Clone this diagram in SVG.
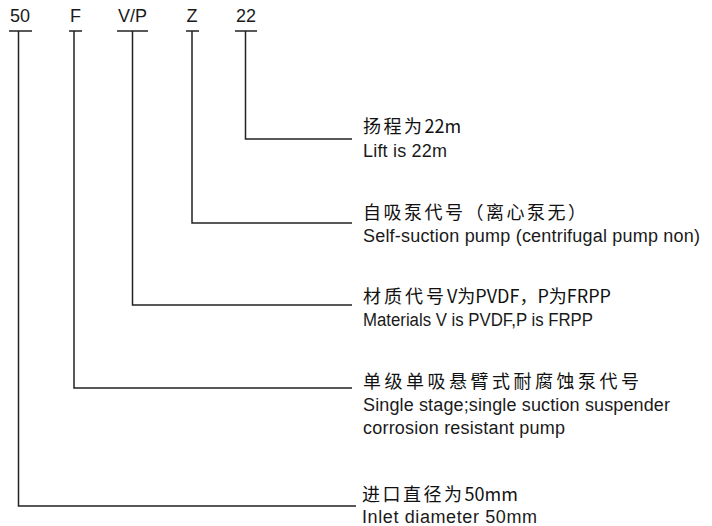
<svg xmlns="http://www.w3.org/2000/svg" width="712" height="526" viewBox="0 0 712 526">
<style>
.code{font-family:"Liberation Sans","Noto Sans",sans-serif;font-size:18px;fill:#1a1a1a;text-anchor:middle}
.cn{font-family:"Noto Sans CJK SC","Liberation Sans",sans-serif;font-size:18px;fill:#111}
.en{font-family:"Liberation Sans","Noto Sans",sans-serif;font-size:18px;fill:#1a1a1a}
.ln{stroke:#222;stroke-width:1.5;fill:none}
</style>
<rect width="712" height="526" fill="#fff"/>
<g id="codes">
  <g id="code-50"><text class="code" x="20" y="22">50</text><line class="ln" x1="9" y1="31" x2="32" y2="31"/></g>
  <g id="code-F"><text class="code" x="75.5" y="22">F</text><line class="ln" x1="69" y1="31" x2="82" y2="31"/></g>
  <g id="code-VP"><text class="code" x="132.5" y="22">V/P</text><line class="ln" x1="117" y1="31" x2="148" y2="31"/></g>
  <g id="code-Z"><text class="code" x="192" y="22">Z</text><line class="ln" x1="186" y1="31" x2="199" y2="31"/></g>
  <g id="code-22"><text class="code" x="246" y="22">22</text><line class="ln" x1="235" y1="31" x2="257" y2="31"/></g>
</g>
<g id="connectors">
  <polyline class="ln" points="245.5,31 245.5,139 352,139"/>
  <polyline class="ln" points="192,31 192,223 352,223"/>
  <polyline class="ln" points="132.5,31 132.5,305 352,305"/>
  <polyline class="ln" points="74,31 74,388 352,388"/>
  <polyline class="ln" points="18.5,31 18.5,506 356,506"/>
</g>
<g id="desc-22">
  <text class="cn" x="363" y="133"><tspan style="letter-spacing:2.5px">扬程为</tspan>22m</text>
  <text class="en" x="363" y="157" textLength="84" lengthAdjust="spacing">Lift is 22m</text>
</g>
<g id="desc-Z">
  <text class="cn" x="363" y="219" style="letter-spacing:2.5px">自吸泵代号（离心泵无）</text>
  <text class="en" x="363" y="242" textLength="337" lengthAdjust="spacing">Self-suction pump (centrifugal pump non)</text>
</g>
<g id="desc-VP">
  <text class="cn" x="363" y="303"><tspan style="letter-spacing:3px">材质代号</tspan>V为PVDF，P为FRPP</text>
  <text class="en" x="363" y="326" textLength="230" lengthAdjust="spacingAndGlyphs">Materials V is PVDF,P is FRPP</text>
</g>
<g id="desc-F">
  <text class="cn" x="363" y="388" style="letter-spacing:3.5px">单级单吸悬臂式耐腐蚀泵代号</text>
  <text class="en" x="363" y="411" textLength="307" lengthAdjust="spacing">Single stage;single suction suspender</text>
  <text class="en" x="363" y="434" textLength="202" lengthAdjust="spacing">corrosion resistant pump</text>
</g>
<g id="desc-50">
  <text class="cn" x="362" y="501"><tspan style="letter-spacing:2.5px">进口直径为</tspan>50mm</text>
  <text class="en" x="362" y="523" textLength="175" lengthAdjust="spacing">Inlet diameter 50mm</text>
</g>
</svg>
